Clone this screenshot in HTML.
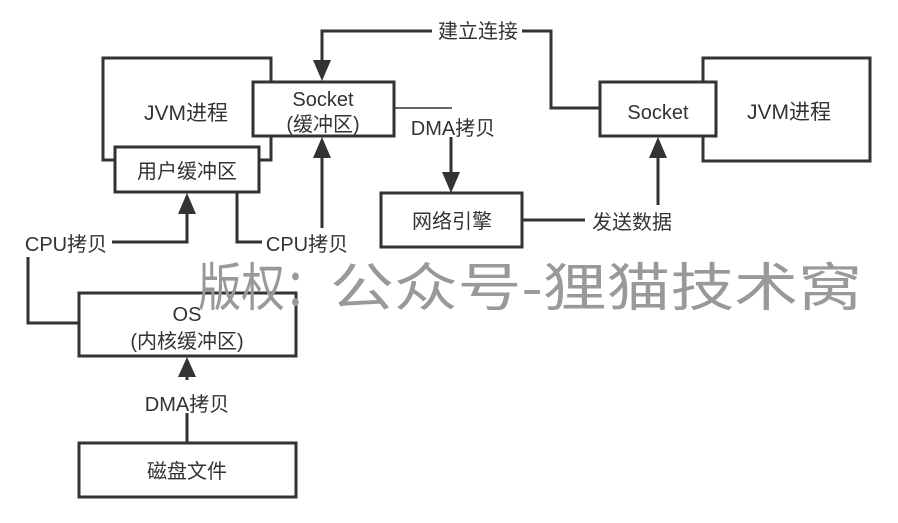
<!DOCTYPE html>
<html><head><meta charset="utf-8"><style>
html,body{margin:0;padding:0;background:#fff;}
svg{display:block;}
text{font-family:"Liberation Sans","Noto Sans CJK SC",sans-serif;fill:#333;}
</style></head><body>
<svg width="898" height="523" viewBox="0 0 898 523" xmlns="http://www.w3.org/2000/svg">
<g fill="none" stroke="#333" stroke-width="3">
<rect x="103" y="58" width="168" height="102" fill="#fff"/>
<rect x="115" y="147" width="144" height="45" fill="#fff"/>
<rect x="253" y="82" width="141" height="54" fill="#fff"/>
<rect x="703" y="58" width="167" height="103" fill="#fff"/>
<rect x="600" y="82" width="116" height="54" fill="#fff"/>
<rect x="381" y="193" width="141" height="54"/>
<rect x="79" y="293" width="217" height="63"/>
<rect x="79" y="443" width="217" height="54"/>
<polyline points="432,31 322,31 322,62"/>
<polyline points="522,31 551,31 551,108 600,108"/>
<line x1="451" y1="137" x2="451" y2="175"/>
<polyline points="522,220 585,220"/>
<line x1="658" y1="205" x2="658" y2="155"/>
<polyline points="112,242 187,242 187,212"/>
<polyline points="237,192 237,242 262,242"/>
<line x1="322" y1="228" x2="322" y2="155"/>
<polyline points="28,257 28,323 79,323"/>
<line x1="187" y1="373" x2="187" y2="380"/>
<line x1="187" y1="413" x2="187" y2="443"/>
</g>
<line x1="394" y1="108" x2="452" y2="108" stroke="#333" stroke-width="1.5"/>
<g fill="#333">
<polygon points="313,60 331,60 322,81"/>
<polygon points="442,172 460,172 451,193"/>
<polygon points="649,158 667,158 658,137"/>
<polygon points="313,158 331,158 322,137"/>
<polygon points="178,214 196,214 187,193"/>
<polygon points="178,377 196,377 187,357"/>
</g>
<text x="478" y="38" font-size="20" text-anchor="middle">建立连接</text>
<text x="186" y="120" font-size="21" text-anchor="middle">JVM进程</text>
<text x="323" y="106" font-size="20" text-anchor="middle">Socket</text>
<text x="323" y="131" font-size="20" text-anchor="middle">(缓冲区)</text>
<text x="187" y="178" font-size="20" text-anchor="middle">用户缓冲区</text>
<text x="453" y="135" font-size="20" text-anchor="middle">DMA拷贝</text>
<text x="658" y="119" font-size="20" text-anchor="middle">Socket</text>
<text x="789" y="119" font-size="21" text-anchor="middle">JVM进程</text>
<text x="452" y="228" font-size="20" text-anchor="middle">网络引擎</text>
<text x="632" y="229" font-size="20" text-anchor="middle">发送数据</text>
<text x="66" y="251" font-size="20" text-anchor="middle">CPU拷贝</text>
<text x="307" y="251" font-size="20" text-anchor="middle">CPU拷贝</text>
<text x="187" y="321" font-size="20" text-anchor="middle">OS</text>
<text x="187" y="348" font-size="20" text-anchor="middle">(内核缓冲区)</text>
<text x="187" y="411" font-size="20" text-anchor="middle">DMA拷贝</text>
<text x="187" y="478" font-size="20" text-anchor="middle">磁盘文件</text>
<text x="198" y="306" font-size="52" textLength="130" lengthAdjust="spacingAndGlyphs" style="fill:#999">版权：</text>
<text x="330" y="306" font-size="52" textLength="532" lengthAdjust="spacingAndGlyphs" style="fill:#999">公众号-狸猫技术窝</text>
</svg>
</body></html>
